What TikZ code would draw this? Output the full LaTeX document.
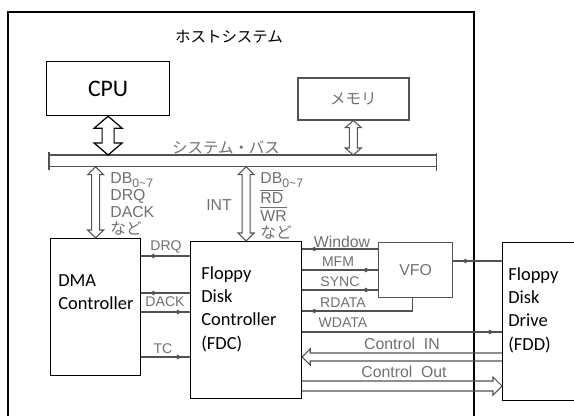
\documentclass[tikz,border=0pt]{standalone}
\usepackage{fontspec}
\setmainfont{Carlito}
\newfontfamily\jpfont{Noto Sans CJK JP}
\newfontfamily\scanfont{Liberation Sans}
\usepackage{xcolor}
\usepackage{tikz}
\usetikzlibrary{calc, arrows.meta}

\newlength\pxu
\setlength\pxu{0.02cm}
\colorlet{scanline}{black!68}
\colorlet{scantext}{black!56}

% hollow double arrow, vertical: top, bottom, shaft half, head half, head length
\newcommand{\hollowv}[6][]{%
  \draw[hollow,#1] (#2) -- ($(#2)+(#5,#6)$) -- ($(#2)+(#4,#6)$) -- ($(#3)+(#4,-#6)$)
    -- ($(#3)+(#5,-#6)$) -- (#3) -- ($(#3)+(-#5,-#6)$) -- ($(#3)+(-#4,-#6)$)
    -- ($(#2)+(-#4,#6)$) -- ($(#2)+(-#5,#6)$) -- cycle;}
% hollow single arrow, horizontal: tail, tip, shaft half, head half, head length (signed)
\newcommand{\hollowh}[5]{%
  \draw[hollowline] ($(#1)+(0,-#3)$) -- ($(#2)+(#5,-#3)$) -- ($(#2)+(#5,-#4)$) -- (#2)
    -- ($(#2)+(#5,#4)$) -- ($(#2)+(#5,#3)$) -- ($(#1)+(0,#3)$);}
\newcommand{\dbsub}{\raisebox{-2.5pt}{\fontsize{7}{8}\selectfont 0\textasciitilde7}}

\begin{document}
\begin{tikzpicture}[x=0.02cm, y=-0.02cm,
    box/.style={draw, line width=0.7pt, inner sep=0pt},
    scanbox/.style={draw=scanline, line width=0.9pt, inner sep=0pt},
    boxtext/.style={align=left, inner sep=0pt, font=\fontsize{10.5}{13.3}\selectfont},
    buslabel/.style={text=scantext, align=left, inner sep=0pt, font=\scanfont\fontsize{9}{9.8}\selectfont},
    siglabel/.style={text=scantext, inner sep=0pt, font=\scanfont\fontsize{8}{9}\selectfont},
    sig/.style={draw=scanline, line width=0.6pt},
    sigarr/.style={sig, postaction={draw, shorten >=4pt, -{Latex[length=3.5pt,width=3pt]}}},
    hollow/.style={draw=scanline, line width=0.6pt, fill=white, line join=miter},
    hollowline/.style={draw=scanline, line width=0.6pt, line join=miter},
    busline/.style={draw=scanline, line width=0.8pt}]
    \useasboundingbox (0,0) rectangle (574,416);
    \clip (0,0) rectangle (574,416);

    % host system frame
    \draw[line width=0.7pt] (8,416) -- (8,12) -- (474,12) -- (474,416);
    \node[font=\jpfont\fontsize{8.8}{11}\selectfont] (host) at (229,37) {ホストシステム};

    % blocks
    \node[box, anchor=north west, minimum width=123\pxu, minimum height=54\pxu,
          font=\fontsize{13.5}{15}\selectfont] (cpu) at (46,61) {CPU};
    \node[scanbox, anchor=north west, minimum width=111\pxu, minimum height=42\pxu,
          text=scantext, font=\jpfont\fontsize{8.8}{10}\selectfont] (memory) at (297,77) {メモリ};
    \node[anchor=north west, minimum width=387\pxu, minimum height=11\pxu, inner sep=0pt] (bus) at (49,155) {};
    \node[box, anchor=north west, minimum width=90\pxu, minimum height=137\pxu] (dma) at (50,238) {};
    \node[box, anchor=north west, minimum width=111\pxu, minimum height=157\pxu] (fdc) at (190,241) {};
    \node[scanbox, line width=0.7pt, anchor=north west, minimum width=74\pxu, minimum height=55\pxu,
          text=scantext, font=\scanfont\fontsize{9}{10}\selectfont] (vfo) at (378,242) {VFO};
    \node[box, anchor=north west, minimum width=98\pxu, minimum height=158\pxu] (fdd) at (502,242) {};

    \node[boxtext, anchor=north west] (dmatext) at (58,274) {DMA\\Controller};
    \node[boxtext, anchor=north west] (fdctext) at (201,266) {Floppy\\Disk\\Controller\\(FDC)};
    \node[boxtext, anchor=north west] (fddtext) at (508,267) {Floppy\\Disk\\Drive\\(FDD)};

    % system bus
    \draw[busline] (bus.north west) -- (bus.north east) (bus.south west) -- (bus.south east);
    \draw[busline] ([yshift=3\pxu]bus.north west) -- ([yshift=-3\pxu]bus.south west);
    \draw[busline] ([yshift=2\pxu]bus.north east) -- ([yshift=-4\pxu]bus.south east);
    \node[text=scantext, font=\jpfont\fontsize{8.8}{10}\selectfont] (buslabel) at (226,148) {システム・バス};

    \hollowv[draw=black, line width=0.7pt]{cpu.south}{cpu.south |- bus.north}{6}{14}{12}
    \hollowv{memory.south}{memory.south |- bus.north}{4}{8}{7}
    \hollowv{dma.north |- bus.south}{dma.north}{4}{8}{8}
    \hollowv{fdc.north |- bus.south}{fdc.north}{4}{8}{8}

    \node[buslabel, anchor=north west] (dmabus) at (110,172)
        {DB\dbsub\\DRQ\\DACK\\{\jpfont など}};
    \node[buslabel] (int) at (219,205) {INT};
    \node[buslabel, anchor=north west] (fdcbus) at (260,172)
        {DB\dbsub\\$\overline{\mbox{RD}}$\\$\overline{\mbox{WR}}$\\{\jpfont など}};

    % DMA <-> FDC
    \draw[sigarr] (fdc.west |- 0,256) -- (dma.east |- 0,256);
    \draw[sigarr] (fdc.west |- 0,293) -- (dma.east |- 0,293);
    \draw[sigarr] (dma.east |- 0,312) -- (fdc.west |- 0,312);
    \draw[sigarr] (dma.east |- 0,357) -- (fdc.west |- 0,357);
    \node[siglabel] (drq) at (166,247) {DRQ};
    \node[siglabel] (dack) at (165,302) {DACK};
    \node[siglabel] (tc) at (163,349) {TC};

    % FDC <-> VFO <-> FDD
    \draw[sigarr] (vfo.west |- 0,249) -- (fdc.east |- 0,249);
    \draw[sigarr] (fdc.east |- 0,270) -- (vfo.west |- 0,270);
    \draw[sigarr] (fdc.east |- 0,290) -- (vfo.west |- 0,290);
    \draw[sigarr] ([xshift=-3\pxu]vfo.south) |- (fdc.east |- 0,311);
    \draw[sigarr] (fdc.east |- 0,332) -- (fdd.west |- 0,332);
    \draw[sigarr] (fdd.west |- 0,261) -- (vfo.east |- 0,261);
    \node[siglabel, font=\scanfont\fontsize{9}{10}\selectfont] (window) at (342,242) {Window};
    \node[siglabel] (mfm) at (338,262) {MFM};
    \node[siglabel] (sync) at (340,282) {SYNC};
    \node[siglabel] (rdata) at (343,303) {RDATA};
    \node[siglabel] (wdata) at (343,323) {WDATA};

    % control lines
    \hollowh{fdd.west |- 0,357}{fdc.east |- 0,357}{4}{8}{8}
    \hollowh{fdc.east |- 0,386}{fdd.west |- 0,386}{5}{9}{-9}
    \node[siglabel, font=\scanfont\fontsize{9}{10}\selectfont] (ctrlin) at (402,344) {Control\ \ IN};
    \node[siglabel, font=\scanfont\fontsize{9}{10}\selectfont] (ctrlout) at (404,372) {Control\ \ Out};
\end{tikzpicture}
\end{document}
